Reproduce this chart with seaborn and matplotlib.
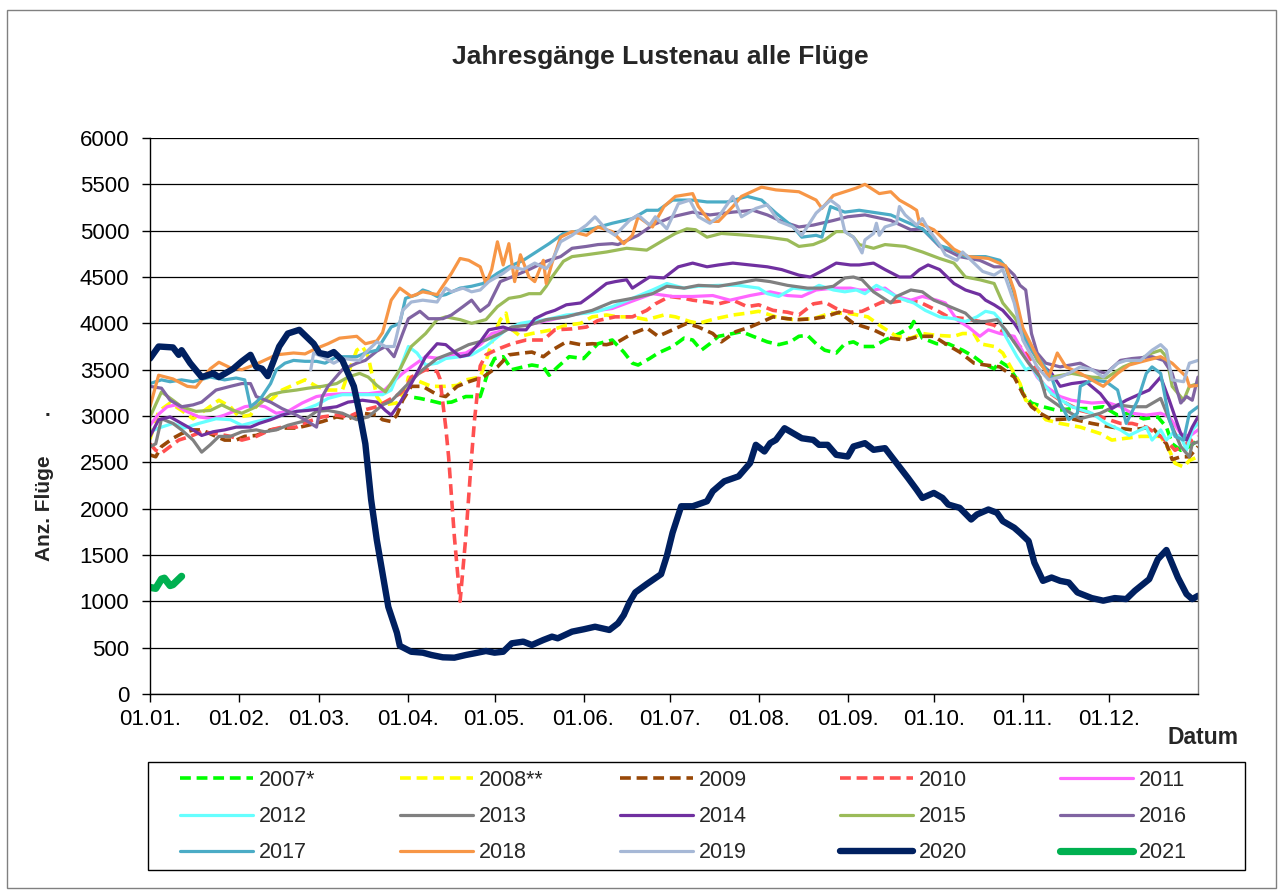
import pandas as pd
import matplotlib
matplotlib.use("Agg")
import matplotlib.pyplot as plt
import seaborn as sns
from matplotlib.patches import Rectangle

# ---- data: (day of year, flights) ----
Y2007 = [(92, 3200), (94, 3190), (97, 3170), (101, 3140), (105, 3150), (110, 3210), (115, 3210), (118, 3500),
         (120, 3620), (123, 3640), (126, 3500), (130, 3530), (133, 3550), (137, 3530), (139, 3440), (142, 3530),
         (146, 3640), (151, 3620), (156, 3780), (161, 3820), (165, 3690), (168, 3570), (170, 3550), (174, 3620),
         (177, 3680), (182, 3750), (186, 3840), (189, 3820), (192, 3710), (195, 3780), (198, 3860), (203, 3890),
         (206, 3910), (210, 3860), (215, 3800), (219, 3770), (223, 3800), (226, 3860), (229, 3870), (232, 3780),
         (235, 3710), (239, 3680), (242, 3780), (245, 3800), (248, 3750), (252, 3750), (256, 3820), (261, 3890),
         (265, 3960), (266, 4020), (269, 3840), (274, 3780), (278, 3780), (283, 3710), (287, 3640), (290, 3570),
         (294, 3510), (296, 3590), (299, 3530), (303, 3350), (304, 3240), (307, 3140), (311, 3100), (316, 3060),
         (321, 3080), (327, 3080), (332, 3100), (337, 3010), (341, 3030), (346, 2970), (351, 2990), (354, 2880),
         (356, 2700), (359, 2630), (362, 2670), (365, 2740)]
Y2008 = [(0, 2750), (3, 3050), (7, 3140), (11, 3060), (15, 2970), (19, 3060), (24, 3170), (28, 3100), (31, 2990),
         (35, 3010), (38, 3150), (42, 3170), (46, 3280), (51, 3350), (54, 3390), (58, 3320), (62, 3280), (67, 3280),
         (69, 3460), (72, 3710), (74, 3750), (76, 3640), (79, 3210), (81, 3120), (86, 3140), (89, 3280), (90, 3420),
         (94, 3370), (98, 3320), (103, 3320), (107, 3330), (110, 3390), (115, 3420), (117, 3590), (120, 3890),
         (122, 4040), (124, 4110), (125, 3960), (129, 3860), (133, 3890), (140, 3930), (145, 3980), (150, 4000),
         (154, 4070), (159, 4090), (163, 4070), (168, 4070), (173, 4040), (179, 4090), (183, 4070), (188, 4020),
         (191, 4000), (197, 4050), (203, 4090), (208, 4110), (212, 4130), (218, 4070), (224, 4040), (231, 4050),
         (237, 4110), (243, 4110), (250, 4070), (255, 3960), (260, 3860), (265, 3840), (269, 3890), (274, 3870),
         (280, 3860), (283, 3890), (287, 3890), (289, 3780), (294, 3750), (297, 3680), (299, 3570), (303, 3350),
         (305, 3170), (307, 3140), (312, 2960), (317, 2920), (324, 2880), (331, 2810), (335, 2740), (340, 2760),
         (345, 2780), (352, 2780), (355, 2630), (357, 2490), (360, 2450), (362, 2520), (365, 2560)]
Y2009 = [(0, 2580), (2, 2560), (4, 2670), (8, 2760), (11, 2810), (15, 2850), (18, 2850), (23, 2780), (26, 2740),
         (30, 2740), (33, 2780), (37, 2790), (42, 2850), (46, 2870), (51, 2870), (55, 2900), (60, 2940), (65, 2990),
         (69, 2970), (74, 3030), (79, 3010), (81, 2960), (84, 2940), (86, 3010), (88, 3170), (91, 3320), (95, 3320),
         (100, 3230), (103, 3210), (107, 3320), (111, 3370), (116, 3420), (121, 3530), (125, 3660), (130, 3680),
         (133, 3690), (137, 3640), (140, 3710), (145, 3800), (150, 3770), (154, 3780), (159, 3770), (163, 3800),
         (168, 3890), (173, 3950), (177, 3860), (182, 3930), (187, 4000), (191, 3960), (196, 3890), (199, 3800),
         (204, 3910), (209, 3960), (212, 4000), (217, 4070), (222, 4050), (226, 4040), (231, 4050), (235, 4070),
         (240, 4120), (245, 4000), (252, 3930), (258, 3840), (263, 3820), (268, 3860), (273, 3860), (277, 3780),
         (282, 3690), (287, 3570), (291, 3550), (296, 3530), (301, 3420), (304, 3240), (307, 3100), (310, 3030),
         (314, 2960), (321, 2970), (328, 2920), (335, 2880), (342, 2850), (349, 2880), (354, 2700), (356, 2530),
         (359, 2560), (362, 2560), (365, 2670)]
Y2010 = [(0, 2700), (2, 2630), (4, 2600), (7, 2670), (10, 2740), (14, 2780), (18, 2830), (23, 2810), (28, 2780),
         (32, 2740), (37, 2780), (42, 2850), (46, 2880), (51, 2880), (55, 2940), (60, 2990), (65, 3010), (69, 2990),
         (74, 3060), (79, 3100), (83, 3170), (87, 3240), (89, 3300), (91, 3420), (96, 3500), (100, 3480), (101, 3400),
         (103, 2880), (104, 2560), (106, 1700), (108, 1000), (110, 1700), (112, 2560), (113, 2950), (115, 3540),
         (117, 3660), (121, 3720), (126, 3780), (131, 3820), (137, 3820), (141, 3930), (147, 3940), (152, 3960),
         (156, 4030), (162, 4070), (168, 4070), (173, 4140), (176, 4210), (181, 4290), (186, 4270), (189, 4250),
         (194, 4230), (198, 4210), (203, 4250), (208, 4180), (212, 4200), (217, 4140), (222, 4120), (226, 4090),
         (231, 4210), (235, 4230), (239, 4160), (244, 4120), (248, 4130), (255, 4230), (259, 4230), (263, 4250),
         (268, 4230), (274, 4140), (278, 4070), (284, 4050), (289, 4020), (294, 3980), (298, 3890), (303, 3750),
         (307, 3600), (312, 3280), (317, 3170), (324, 3060), (328, 3030), (333, 2970), (338, 2920), (342, 2920),
         (347, 2880), (352, 2780), (355, 2700), (357, 2630), (361, 2700), (365, 2780)]
Y2011 = [(0, 2900), (3, 3020), (6, 3100), (9, 3120), (12, 3060), (17, 2990), (22, 2970), (26, 3010), (30, 3060),
         (33, 3100), (37, 3120), (40, 3100), (44, 3030), (48, 3050), (53, 3140), (58, 3210), (62, 3230), (67, 3240),
         (72, 3240), (76, 3240), (81, 3260), (84, 3350), (88, 3460), (91, 3530), (96, 3640), (101, 3620), (105, 3660),
         (110, 3680), (115, 3770), (119, 3890), (124, 3930), (129, 3980), (134, 4000), (140, 4040), (147, 4090),
         (154, 4130), (161, 4160), (168, 4240), (175, 4320), (182, 4290), (189, 4290), (196, 4300), (202, 4250),
         (209, 4300), (216, 4340), (222, 4300), (227, 4290), (232, 4360), (238, 4380), (244, 4380), (247, 4360),
         (252, 4360), (256, 4380), (260, 4290), (265, 4250), (269, 4290), (274, 4250), (277, 4220), (281, 4040),
         (285, 3960), (289, 3860), (292, 3930), (296, 3890), (301, 3860), (305, 3640), (309, 3420), (312, 3320),
         (317, 3210), (321, 3170), (328, 3140), (333, 3150), (338, 3100), (342, 3030), (347, 3010), (352, 3030),
         (355, 2990), (359, 2810), (362, 2780), (365, 2850)]
Y2012 = [(0, 2830), (3, 2870), (8, 2920), (12, 2870), (17, 2920), (23, 2970), (28, 2960), (32, 2900), (37, 2940),
         (44, 2990), (48, 3030), (53, 3060), (58, 3120), (62, 3190), (67, 3230), (72, 3230), (76, 3230), (81, 3230),
         (84, 3280), (87, 3500), (90, 3750), (93, 3680), (96, 3550), (100, 3570), (103, 3620), (108, 3640),
         (112, 3660), (117, 3750), (124, 3930), (129, 4000), (133, 4020), (138, 4040), (145, 4090), (152, 4110),
         (156, 4130), (161, 4180), (168, 4270), (175, 4360), (180, 4430), (186, 4380), (191, 4400), (198, 4410),
         (205, 4410), (212, 4380), (215, 4320), (219, 4290), (224, 4380), (230, 4360), (233, 4410), (238, 4360),
         (242, 4340), (246, 4360), (249, 4320), (253, 4410), (256, 4360), (261, 4270), (266, 4220), (270, 4140),
         (275, 4070), (280, 4050), (284, 4020), (288, 4070), (291, 4130), (294, 4110), (296, 4040), (298, 3860),
         (302, 3640), (305, 3500), (307, 3530), (310, 3390), (314, 3240), (321, 3100), (328, 3030), (333, 2920),
         (338, 2850), (341, 2790), (345, 2850), (347, 2880), (349, 2740), (352, 2850), (354, 2740), (356, 2810),
         (359, 2780), (361, 2630), (363, 2850), (365, 2920)]
Y2013 = [(0, 2670), (2, 2700), (4, 2970), (8, 2920), (11, 2850), (15, 2740), (18, 2610), (21, 2690), (24, 2780),
         (28, 2780), (32, 2830), (37, 2850), (40, 2830), (44, 2850), (48, 2900), (53, 2940), (58, 3050), (62, 3060),
         (67, 3030), (72, 2960), (76, 2990), (81, 3120), (84, 3160), (89, 3320), (95, 3500), (100, 3620), (105, 3680),
         (111, 3770), (117, 3820), (122, 3890), (126, 3960), (132, 3980), (138, 4040), (145, 4070), (150, 4110),
         (154, 4140), (161, 4230), (168, 4270), (175, 4320), (180, 4400), (186, 4380), (191, 4410), (198, 4400),
         (204, 4430), (211, 4470), (216, 4450), (222, 4410), (229, 4380), (234, 4380), (238, 4400), (242, 4490),
         (245, 4500), (248, 4470), (252, 4340), (258, 4220), (260, 4290), (265, 4360), (269, 4340), (273, 4250),
         (277, 4200), (284, 4110), (287, 4020), (291, 4020), (295, 4040), (298, 3930), (302, 3750), (306, 3570),
         (310, 3420), (312, 3210), (317, 3100), (324, 2970), (331, 3030), (337, 3120), (342, 3100), (347, 3100),
         (352, 3190), (355, 2960), (359, 2670), (362, 2560), (363, 2700), (365, 2720)]
Y2014 = [(0, 2780), (3, 2960), (7, 2990), (11, 2920), (15, 2850), (18, 2790), (22, 2830), (26, 2850), (30, 2880),
         (35, 2880), (38, 2920), (42, 2960), (46, 3010), (51, 3050), (55, 3060), (60, 3080), (65, 3100), (69, 3150),
         (74, 3170), (79, 3150), (82, 3060), (84, 3010), (87, 3140), (91, 3350), (96, 3640), (100, 3780), (103, 3770),
         (108, 3640), (111, 3660), (115, 3800), (118, 3930), (123, 3960), (126, 3930), (131, 3930), (134, 4050),
         (138, 4110), (141, 4140), (145, 4200), (150, 4220), (154, 4310), (159, 4430), (162, 4450), (166, 4470),
         (168, 4380), (174, 4500), (179, 4490), (184, 4610), (189, 4650), (194, 4610), (198, 4630), (203, 4650),
         (209, 4630), (215, 4610), (220, 4580), (226, 4520), (230, 4500), (235, 4580), (239, 4650), (244, 4630),
         (247, 4630), (252, 4650), (256, 4580), (261, 4500), (265, 4500), (268, 4580), (271, 4630), (275, 4580),
         (280, 4430), (284, 4360), (289, 4310), (291, 4250), (294, 4200), (297, 4140), (301, 4000), (304, 3860),
         (310, 3570), (314, 3460), (317, 3320), (321, 3350), (326, 3370), (331, 3240), (335, 3080), (340, 3170),
         (345, 3240), (348, 3280), (352, 3420), (355, 3170), (359, 2810), (361, 2740), (363, 2880), (365, 2990)]
Y2015 = [(0, 2990), (4, 3260), (8, 3170), (11, 3100), (16, 3050), (21, 3060), (25, 3120), (29, 3060), (32, 3030),
         (37, 3100), (42, 3230), (46, 3260), (51, 3280), (55, 3300), (60, 3320), (65, 3350), (69, 3420), (73, 3460),
         (76, 3420), (79, 3330), (82, 3260), (87, 3500), (91, 3750), (96, 3890), (100, 4040), (103, 4070), (108, 4040),
         (112, 4000), (117, 4040), (121, 4180), (125, 4270), (129, 4290), (132, 4320), (136, 4320), (138, 4400),
         (140, 4500), (144, 4670), (147, 4720), (152, 4740), (159, 4770), (166, 4810), (173, 4790), (179, 4900),
         (183, 4970), (187, 5020), (190, 5010), (194, 4930), (199, 4970), (208, 4950), (215, 4930), (222, 4900),
         (226, 4830), (231, 4850), (235, 4900), (239, 4990), (242, 4990), (245, 4930), (247, 4850), (252, 4810),
         (256, 4850), (263, 4830), (269, 4770), (275, 4700), (280, 4650), (284, 4500), (289, 4470), (294, 4430),
         (297, 4220), (301, 4070), (305, 3860), (309, 3600), (314, 3420), (321, 3460), (328, 3420), (333, 3410),
         (339, 3530), (342, 3570), (349, 3680), (352, 3710), (354, 3640), (356, 3320), (360, 3170), (362, 3320),
         (365, 3350)]
Y2016 = [(0, 3320), (4, 3300), (7, 3170), (11, 3100), (15, 3120), (18, 3150), (23, 3280), (28, 3320), (32, 3350),
         (35, 3350), (37, 3210), (42, 3150), (46, 3080), (51, 3010), (55, 2940), (58, 2880), (60, 3210), (62, 3320),
         (67, 3500), (72, 3570), (75, 3600), (79, 3700), (82, 3750), (85, 3640), (88, 3890), (90, 4050), (94, 4130),
         (97, 4050), (102, 4050), (105, 4090), (109, 4180), (112, 4250), (115, 4130), (118, 4200), (122, 4450),
         (126, 4500), (132, 4580), (138, 4670), (143, 4720), (147, 4810), (152, 4830), (156, 4850), (161, 4860),
         (163, 4850), (170, 4950), (175, 5060), (182, 5150), (189, 5200), (195, 5170), (203, 5200), (210, 5220),
         (215, 5170), (220, 5100), (226, 5040), (231, 5060), (238, 5110), (243, 5150), (249, 5170), (258, 5110),
         (265, 5010), (269, 5020), (275, 4830), (282, 4720), (289, 4680), (294, 4610), (298, 4610), (301, 4520),
         (303, 4410), (305, 4360), (307, 3890), (309, 3680), (312, 3570), (317, 3530), (324, 3570), (328, 3500),
         (333, 3460), (338, 3600), (342, 3620), (349, 3640), (353, 3600), (356, 3460), (359, 3140), (361, 3210),
         (363, 3170), (365, 3420)]
Y2017 = [(0, 3350), (4, 3390), (7, 3370), (11, 3390), (15, 3370), (21, 3420), (26, 3390), (30, 3410), (33, 3390),
         (35, 3100), (37, 3150), (39, 3210), (42, 3350), (44, 3500), (47, 3570), (50, 3600), (54, 3590), (58, 3590),
         (61, 3570), (65, 3640), (72, 3640), (75, 3680), (79, 3710), (82, 3860), (84, 3960), (87, 4000), (89, 4270),
         (93, 4310), (95, 4360), (97, 4340), (100, 4290), (103, 4310), (108, 4380), (112, 4400), (116, 4430),
         (121, 4540), (125, 4610), (130, 4680), (134, 4760), (139, 4860), (144, 4970), (154, 5020), (161, 5080),
         (168, 5130), (173, 5220), (177, 5220), (182, 5330), (189, 5330), (194, 5310), (201, 5310), (208, 5370),
         (213, 5330), (218, 5190), (224, 5040), (227, 4930), (232, 4950), (234, 4930), (237, 5260), (242, 5200),
         (247, 5220), (258, 5170), (263, 5100), (269, 5020), (275, 4840), (280, 4790), (284, 4720), (291, 4720),
         (296, 4680), (298, 4610), (301, 4320), (303, 3960), (306, 3750), (310, 3600), (314, 3420), (317, 3140),
         (320, 2960), (323, 3030), (324, 3320), (328, 3390), (333, 3370), (337, 3280), (340, 2920), (344, 3170),
         (347, 3460), (349, 3530), (352, 3460), (355, 2960), (357, 2780), (360, 2740), (362, 3030), (365, 3100)]
Y2018 = [(0, 3100), (3, 3440), (8, 3400), (13, 3320), (16, 3310), (21, 3510), (24, 3580), (28, 3520), (32, 3500),
         (37, 3560), (44, 3660), (50, 3680), (54, 3670), (58, 3730), (62, 3780), (66, 3840), (72, 3860), (75, 3780),
         (79, 3810), (81, 3900), (84, 4250), (87, 4380), (91, 4290), (95, 4340), (100, 4310), (105, 4540), (108, 4700),
         (111, 4680), (115, 4610), (117, 4430), (119, 4580), (121, 4880), (123, 4630), (125, 4860), (127, 4450),
         (129, 4740), (132, 4500), (134, 4450), (137, 4680), (138, 4430), (140, 4650), (143, 4930), (147, 4990),
         (152, 4950), (156, 5040), (161, 4990), (165, 4860), (168, 4950), (170, 5150), (175, 5040), (179, 5260),
         (183, 5370), (189, 5400), (191, 5260), (195, 5100), (198, 5100), (203, 5260), (206, 5370), (213, 5470),
         (218, 5440), (226, 5420), (232, 5330), (234, 5240), (238, 5380), (242, 5420), (246, 5460), (249, 5500),
         (254, 5400), (258, 5420), (261, 5330), (265, 5260), (267, 5220), (268, 5080), (273, 5010), (280, 4800),
         (285, 4720), (292, 4700), (298, 4620), (301, 4350), (304, 3950), (308, 3700), (313, 3420), (316, 3680),
         (319, 3530), (324, 3460), (328, 3390), (332, 3320), (337, 3460), (341, 3550), (347, 3600), (352, 3640),
         (356, 3570), (361, 3420), (362, 3320), (365, 3330)]
Y2019 = [(56, 3500), (57, 3680), (60, 3640), (64, 3570), (67, 3620), (73, 3600), (75, 3680), (79, 3800), (82, 3750),
         (85, 3750), (88, 4140), (91, 4230), (95, 4250), (100, 4230), (103, 4380), (105, 4340), (109, 4380),
         (112, 4340), (115, 4360), (118, 4450), (123, 4540), (126, 4610), (130, 4580), (134, 4650), (138, 4590),
         (140, 4670), (143, 4880), (147, 4950), (152, 5060), (155, 5150), (159, 5010), (162, 4950), (167, 5110),
         (170, 5170), (174, 5060), (176, 5150), (180, 5020), (184, 5290), (188, 5330), (191, 5150), (195, 5080),
         (198, 5150), (203, 5370), (206, 5150), (211, 5240), (215, 5280), (219, 5100), (224, 5040), (227, 4950),
         (232, 5190), (237, 5330), (240, 5260), (242, 4990), (245, 4930), (248, 4760), (249, 4900), (252, 4970),
         (253, 5080), (254, 4950), (256, 5040), (260, 5080), (261, 5260), (263, 5170), (267, 5060), (269, 5130),
         (271, 5020), (275, 4850), (277, 4740), (281, 4680), (283, 4770), (287, 4650), (290, 4560), (294, 4520),
         (297, 4580), (301, 4220), (304, 3820), (309, 3530), (313, 3390), (317, 3420), (320, 3460), (324, 3530),
         (328, 3500), (332, 3420), (337, 3570), (340, 3600), (345, 3600), (349, 3710), (352, 3770), (354, 3710),
         (356, 3390), (360, 3370), (362, 3570), (365, 3600)]
Y2020 = [(0, 3620), (3, 3750), (8, 3740), (10, 3660), (11, 3710), (14, 3570), (18, 3420), (22, 3460), (24, 3420),
         (29, 3510), (32, 3590), (35, 3660), (37, 3530), (39, 3510), (41, 3430), (45, 3750), (48, 3890), (52, 3930),
         (54, 3870), (57, 3780), (59, 3680), (62, 3660), (64, 3690), (67, 3600), (71, 3320), (73, 3030), (75, 2700),
         (77, 2100), (79, 1660), (81, 1300), (83, 940), (86, 660), (87, 520), (91, 456), (95, 446), (98, 421),
         (102, 396), (106, 392), (110, 421), (113, 439), (117, 464), (120, 446), (123, 456), (126, 547), (130, 565),
         (133, 529), (137, 583), (140, 619), (142, 601), (147, 673), (151, 698), (155, 726), (160, 691), (163, 763),
         (165, 852), (167, 990), (169, 1096), (173, 1186), (178, 1293), (180, 1490), (182, 1740), (185, 2026),
         (189, 2026), (194, 2080), (196, 2188), (200, 2295), (205, 2349), (209, 2492), (211, 2689), (214, 2617),
         (216, 2707), (218, 2742), (221, 2868), (224, 2814), (227, 2760), (231, 2742), (233, 2689), (236, 2689),
         (239, 2581), (243, 2563), (245, 2671), (249, 2707), (252, 2635), (256, 2653), (260, 2492), (264, 2331),
         (267, 2205), (269, 2116), (273, 2170), (276, 2116), (278, 2045), (282, 2009), (286, 1883), (288, 1937),
         (292, 1991), (295, 1955), (297, 1866), (301, 1794), (303, 1740), (306, 1651), (308, 1418), (311, 1221),
         (314, 1257), (317, 1221), (320, 1203), (323, 1096), (328, 1035), (332, 1007), (336, 1035), (340, 1024),
         (343, 1114), (348, 1239), (351, 1454), (354, 1554), (358, 1257), (361, 1078), (363, 1024), (365, 1060)]
Y2021 = [(0, 1150), (2, 1140), (4, 1240), (5, 1250), (7, 1170), (8, 1180), (10, 1240), (11, 1270)]

SERIES = [("2007*", Y2007), ("2008**", Y2008), ("2009", Y2009), ("2010", Y2010), ("2011", Y2011),
          ("2012", Y2012), ("2013", Y2013), ("2014", Y2014), ("2015", Y2015), ("2016", Y2016),
          ("2017", Y2017), ("2018", Y2018), ("2019", Y2019), ("2020", Y2020), ("2021", Y2021)]
COLORS = ["#00FF00", "#FFFF00", "#984807", "#FF5050", "#FF66FF",
          "#66FFFF", "#808080", "#7030A0", "#9BBB59", "#8064A2",
          "#4BACC6", "#F79646", "#A6B8D6", "#002060", "#00B050"]
DASHED = {"2007*", "2008**", "2009", "2010"}
WIDTH = {"2020": 4.6, "2021": 5.2}

MONTH_DAYS = [0, 31, 59, 90, 120, 151, 181, 212, 243, 273, 304, 334]
MONTH_LABELS = ["01.01.", "01.02.", "01.03.", "01.04.", "01.05.", "01.06.",
                "01.07.", "01.08.", "01.09.", "01.10.", "01.11.", "01.12."]

sns.set_theme(style="white")
plt.rcParams["font.family"] = ["Liberation Sans", "DejaVu Sans"]

W, H = 1280, 891
fig = plt.figure(figsize=(W / 100, H / 100), dpi=100)
ax = fig.add_axes([150 / W, 1 - 694 / H, (1198 - 150) / W, (694 - 138) / H])

for (name, pts), col in zip(SERIES, COLORS):
    df = pd.DataFrame(pts, columns=["Tag", "Flüge"])
    sns.lineplot(data=df, x="Tag", y="Flüge", ax=ax, color=col, estimator=None, sort=False,
                 lw=WIDTH.get(name, 2.6 if name in DASHED else 2.3), label=name)
    line = ax.lines[-1]
    if name in DASHED:
        line.set_dashes((3, 1.6))
    line.set_solid_joinstyle("round")

ax.set_xlim(0, 365)
ax.set_ylim(0, 6000)
ax.set_xticks(MONTH_DAYS)
ax.set_xticklabels(MONTH_LABELS)
ax.set_yticks(range(0, 6001, 500))
ax.yaxis.grid(True, color="black", lw=0.9)
ax.set_axisbelow(True)
ax.tick_params(axis="both", direction="out", length=6, width=1, color="black",
               labelsize=16, labelcolor="black", bottom=True, left=True)
ax.tick_params(axis="y", pad=9)
ax.tick_params(axis="x", pad=5)
ax.set_xlabel("")
ax.set_ylabel("")
for s in ["left", "bottom"]:
    ax.spines[s].set_color("black")
    ax.spines[s].set_linewidth(1)
ax.spines["top"].set_visible(False)
ax.spines["right"].set_color("#808080")
ax.spines["right"].set_linewidth(1)

fig.text(660 / W, 1 - 57 / H, "Jahresgänge Lustenau alle Flüge", ha="center", va="center",
         fontsize=19, fontweight="bold")
fig.text(45 / W, 1 - 508 / H, "Anz. Flüge", rotation=90, ha="center", va="center",
         fontsize=15, fontweight="bold")
fig.text(47 / W, 1 - 410 / H, ".", ha="center", va="center", fontsize=15, fontweight="bold")
fig.text(1203 / W, 1 - 737 / H, "Datum", ha="center", va="center", fontsize=16.5, fontweight="bold")

# legend: Excel lays it out row by row in equal-width columns -> one legend per column
handles, labels = ax.get_legend_handles_labels()
ax.get_legend().remove()
for c in range(5):
    idx = [r * 5 + c for r in range(3)]
    fig.legend([handles[i] for i in idx], [labels[i] for i in idx], ncol=1,
               loc="upper left", bbox_to_anchor=((180 + 220 * c) / W, 1 - 770 / H),
               fontsize=15.5, handlelength=3.4, handletextpad=0.25, labelspacing=0.7,
               borderpad=0, borderaxespad=0, frameon=False)
fig.patches.append(Rectangle((148 / W, 1 - 870 / H), (1245 - 148) / W, 108 / H, transform=fig.transFigure,
                             fill=False, edgecolor="black", lw=1))

fig.patches.append(Rectangle((7 / W, 3 / H), (1276 - 7) / W, (H - 10 - 3) / H, transform=fig.transFigure,
                             fill=False, edgecolor="#808080", lw=1))

fig.savefig("out.png", dpi=100)
